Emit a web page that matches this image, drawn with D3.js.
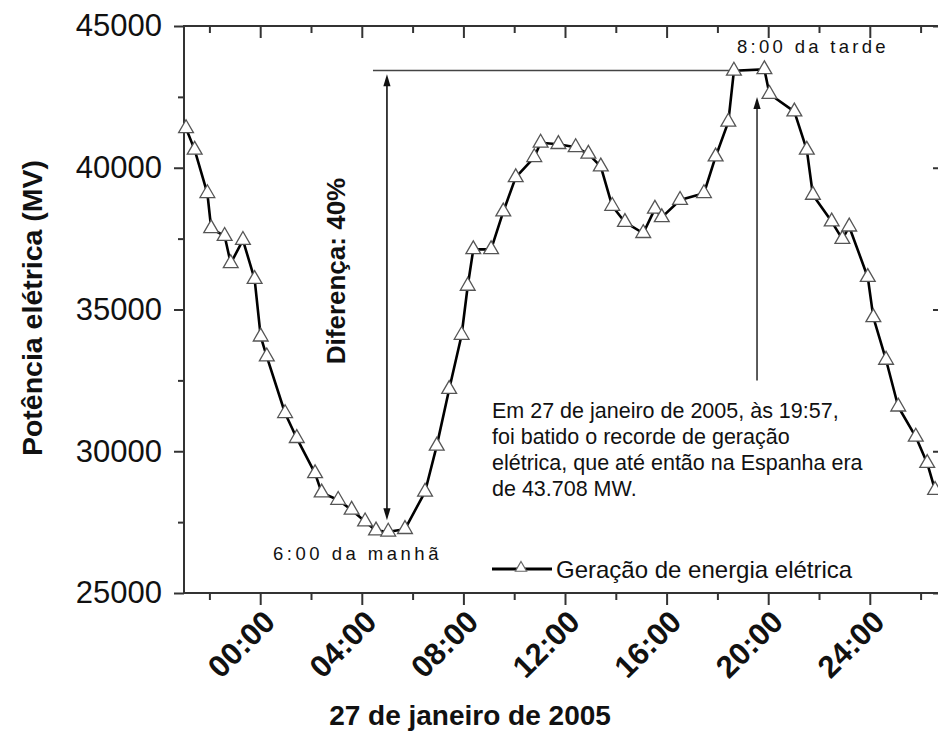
<!DOCTYPE html>
<html><head><meta charset="utf-8">
<script src="https://cdn.jsdelivr.net/npm/d3@7"></script>
<style>
body{margin:0;background:#fff}
svg{display:block}
text{font-family:"Liberation Sans",Arial,Helvetica,sans-serif;fill:#111}
</style>
</head><body>
<svg id="chart" width="938" height="739"></svg>
<script>
// ---- data (hours relative to 00:00 of 27 Jan 2005, power in MW) ----
const hours = [-2.92,-2.58,-2.08,-1.93,-1.40,-1.16,-0.68,-0.22,0.02,0.26,0.98,1.44,2.16,2.42,3.07,3.60,4.13,4.56,5.04,5.70,
  6.49,6.95,7.44,7.93,8.17,8.39,9.09,9.57,10.06,10.79,11.04,11.74,12.42,12.92,13.41,13.86,14.36,15.08,15.54,15.81,
  16.53,17.47,17.93,18.43,18.65,19.85,20.05,21.03,21.52,21.76,22.50,22.92,23.19,23.92,24.14,24.64,25.12,25.81,26.26,26.57];
const power = [41390,40630,39100,37860,37590,36630,37450,36070,34040,33340,31340,30460,29220,28540,28280,27930,27520,27200,27160,27250,
  28570,30190,32190,34100,35830,37120,37120,38450,39660,40370,40880,40830,40720,40490,40040,38650,38080,37690,38550,38250,
  38860,39100,40390,41620,43420,43470,42600,41980,40630,39040,38100,37480,37920,36140,34720,33220,31570,30510,29580,28630];

const xTickHours = [0,4,8,12,16,20,24];
const xTickLabels = ["00:00","04:00","08:00","12:00","16:00","20:00","24:00"];
const xMinorHours = [-2,2,6,10,14,18,22,26];
const yTicks = [25000,30000,35000,40000,45000];
const yTickLabels = ["25000","30000","35000","40000","45000"];
const yMinor = [27500,32500,37500,42500];

const seriesName = "Geração de energia elétrica";
const xTitle = "27 de janeiro de 2005";
const yTitle = "Potência elétrica (MV)";
const diffLabel = "Diferença: 40%";
const minLabel = "6:00 da manhã";
const maxLabel = "8:00 da tarde";
const noteLines = ["Em 27 de janeiro de 2005, às 19:57,","foi batido o recorde de geração","elétrica, que até então na Espanha era","de 43.708 MW."];

// annotation anchors (data units)
const peakLineFrom = 4.44, peakLineTo = 18.65, peakValue = 43430;
const diffHour = 4.99, diffTop = 43300, diffBottom = 27570;
const recHour = 19.56, recTip = 42500, recTail = 32500;

// ---- layout ----
const L = 184, R = 946, T = 26, B = 593;
const svg = d3.select("#chart");
const x = d3.scaleLinear().domain([-3, 27]).range([L, R]);
const y = d3.scaleLinear().domain([25000, 45000]).range([B, T]);
const axisCol = "#333";

// frame
svg.append("rect").attr("x", L).attr("y", T).attr("width", R - L).attr("height", B - T)
  .attr("fill", "none").attr("stroke", axisCol).attr("stroke-width", 2);

// left axis (outward ticks)
const gl = svg.append("g").attr("transform", `translate(${L},0)`);
gl.call(d3.axisLeft(y).tickValues(yTicks).tickSize(10).tickFormat((d,i)=>yTickLabels[i]).tickPadding(12));
gl.append("g").call(d3.axisLeft(y).tickValues(yMinor).tickSize(6).tickFormat(""));
// right axis (inward ticks)
const gr = svg.append("g").attr("transform", `translate(${R},0)`);
gr.call(d3.axisLeft(y).tickValues(yTicks).tickSize(13).tickFormat(""));
gr.append("g").call(d3.axisLeft(y).tickValues(yMinor).tickSize(8).tickFormat(""));
// bottom axis (outward ticks)
const gb = svg.append("g").attr("transform", `translate(0,${B})`);
gb.call(d3.axisBottom(x).tickValues(xTickHours).tickSize(12).tickFormat(""));
gb.append("g").call(d3.axisBottom(x).tickValues(xMinorHours).tickSize(7).tickFormat(""));
// top axis (inward ticks)
const gt = svg.append("g").attr("transform", `translate(0,${T})`);
gt.call(d3.axisBottom(x).tickValues(xTickHours).tickSize(12).tickFormat(""));
gt.append("g").call(d3.axisBottom(x).tickValues(xMinorHours).tickSize(7).tickFormat(""));

svg.selectAll(".domain").attr("stroke", "none");
svg.selectAll(".tick line").attr("stroke", axisCol).attr("stroke-width", 2);
gl.selectAll(".tick text").attr("font-size", 31).attr("font-family", "Liberation Sans, Arial, sans-serif").attr("fill", "#111");

// x tick labels rotated
svg.append("g").selectAll("text").data(xTickHours).join("text")
  .attr("transform", d => `translate(${x(d) + 9},${B + 23}) rotate(-45)`)
  .attr("text-anchor", "end").attr("dy", "0.35em")
  .attr("font-size", 31).attr("font-weight", "bold")
  .text((d,i) => xTickLabels[i]);

// axis titles
svg.append("text").attr("x", 470).attr("y", 725).attr("text-anchor", "middle")
  .attr("font-size", 28).attr("font-weight", "bold").text(xTitle);
svg.append("text").attr("transform", "translate(42,308) rotate(-90)").attr("text-anchor", "middle")
  .attr("font-size", 28.5).attr("font-weight", "bold").text(yTitle);

// annotations
const ann = svg.append("g");
ann.append("line").attr("x1", x(peakLineFrom)).attr("x2", x(peakLineTo))
  .attr("y1", y(peakValue)).attr("y2", y(peakValue)).attr("stroke", "#444").attr("stroke-width", 1.6);
function arrowHead(xc, yt, dir) { // dir = -1 up, 1 down
  const len = 12, hw = 3.6;
  return `M${xc},${yt} L${xc - hw},${yt - dir*len} L${xc + hw},${yt - dir*len} Z`;
}
const dx = x(diffHour);
ann.append("line").attr("x1", dx).attr("x2", dx).attr("y1", y(diffTop) + 8).attr("y2", y(diffBottom) - 8)
  .attr("stroke", "#111").attr("stroke-width", 1.6);
ann.append("path").attr("d", arrowHead(dx, y(diffTop), -1)).attr("fill", "#111");
ann.append("path").attr("d", arrowHead(dx, y(diffBottom), 1)).attr("fill", "#111");
const rx = x(recHour);
ann.append("line").attr("x1", rx).attr("x2", rx).attr("y1", y(recTip) + 8).attr("y2", y(recTail))
  .attr("stroke", "#333").attr("stroke-width", 1.6);
ann.append("path").attr("d", arrowHead(rx, y(recTip), -1)).attr("fill", "#111");

ann.append("text").attr("transform", "translate(345,271) rotate(-90)").attr("text-anchor", "middle")
  .attr("font-size", 26).attr("font-weight", "bold").text(diffLabel);
ann.append("text").attr("x", 273).attr("y", 560).attr("font-size", 18.5)
  .attr("letter-spacing", 3.5).text(minLabel);
ann.append("text").attr("x", 737).attr("y", 53).attr("font-size", 18.5)
  .attr("letter-spacing", 3.3).text(maxLabel);
ann.append("g").selectAll("text").data(noteLines).join("text")
  .attr("x", 492).attr("y", (d,i) => 418 + i*26).attr("font-size", 21.5).text(d => d);

// series line + markers
const pts = hours.map((h,i) => [h, power[i]]);
svg.append("path").datum(pts)
  .attr("d", d3.line().x(d => x(d[0])).y(d => y(d[1])))
  .attr("fill", "none").attr("stroke", "#000").attr("stroke-width", 2.6).attr("stroke-linejoin", "round");
const tri = d3.symbol().type(d3.symbolTriangle).size(95);
svg.append("g").selectAll("path").data(pts).join("path")
  .attr("transform", d => `translate(${x(d[0])},${y(d[1])})`)
  .attr("d", tri).attr("fill", "#fff").attr("stroke", "#555").attr("stroke-width", 1.3);

// legend
const lg = svg.append("g");
lg.append("line").attr("x1", 492).attr("x2", 552).attr("y1", 569).attr("y2", 569)
  .attr("stroke", "#000").attr("stroke-width", 3);
lg.append("path").attr("transform", "translate(521,568)").attr("d", d3.symbol().type(d3.symbolTriangle).size(55))
  .attr("fill", "#fff").attr("stroke", "#666").attr("stroke-width", 1.2);
lg.append("text").attr("x", 556).attr("y", 578).attr("font-size", 24).text(seriesName);
</script>
</body></html>
